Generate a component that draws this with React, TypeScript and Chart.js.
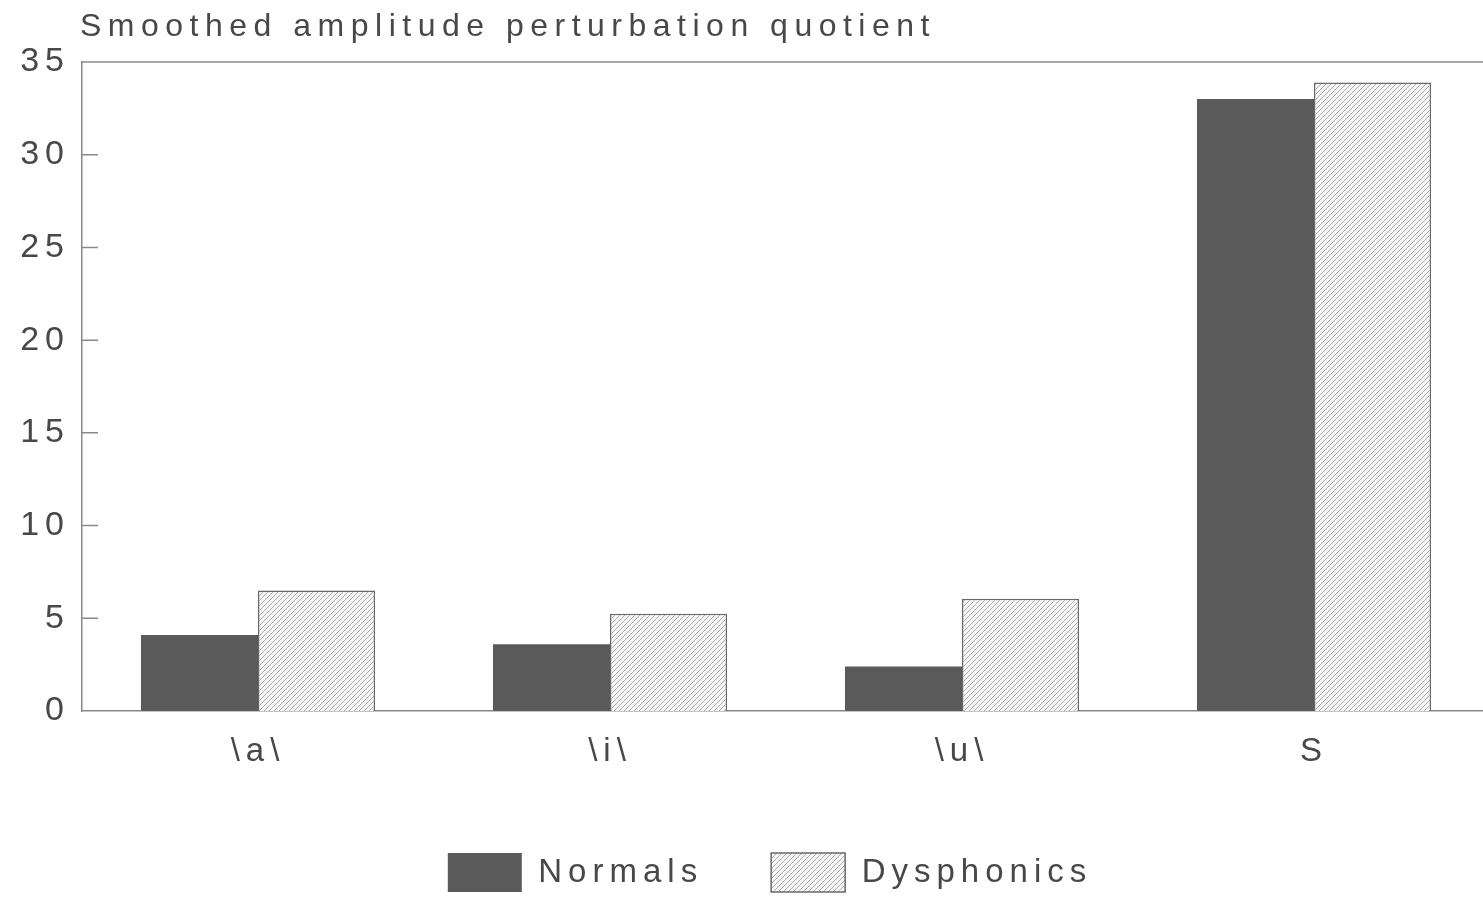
import React, { useEffect, useRef } from "react";
import { Chart, registerables } from "chart.js";

Chart.register(...registerables);

const title = "Smoothed amplitude perturbation quotient";
const categories = ["\\a\\", "\\i\\", "\\u\\", "S"];
const seriesNames = ["Normals", "Dysphonics"];
const normals = [4.1, 3.6, 2.4, 33.0];
const dysphonics = [6.5, 5.25, 6.05, 33.9];
const yTicks = [0, 5, 10, 15, 20, 25, 30, 35];

const FONT = "'Liberation Sans', Arial, Helvetica, sans-serif";
const TEXT = "#484848";
const AXIS = "#8a8a8a";

export default function App() {
  const ref = useRef<HTMLCanvasElement>(null);

  useEffect(() => {
    const canvas = ref.current;
    if (!canvas) return;

    const S = 5;
    const pc = document.createElement("canvas");
    pc.width = S;
    pc.height = S;
    const p = pc.getContext("2d")!;
    p.fillStyle = "#f6f6f6";
    p.fillRect(0, 0, S, S);
    p.strokeStyle = "#adadad";
    p.lineWidth = 1;
    p.beginPath();
    p.moveTo(-1, S + 1);
    p.lineTo(S + 1, -1);
    p.moveTo(-1, 1);
    p.lineTo(1, -1);
    p.moveTo(S - 1, S + 1);
    p.lineTo(S + 1, S - 1);
    p.stroke();
    const pattern = canvas.getContext("2d")!.createPattern(pc, "repeat");

    const stylePlugin = {
      id: "styleTweaks",
      beforeLayout(chart: any) {
        chart.ctx.letterSpacing = "6px";
      },
      beforeDraw(chart: any) {
        chart.ctx.letterSpacing = "6px";
      },
      afterLayout(chart: any) {
        const t = chart.titleBlock;
        if (t) {
          const w = t.right - t.left;
          t.left = chart.chartArea.left - 2;
          t.right = t.left + w;
          if (!t.__patched) {
            const orig = t.draw;
            t.draw = function (...args: any[]) {
              chart.ctx.letterSpacing = "6.5px";
              orig.apply(this, args);
              chart.ctx.letterSpacing = "6px";
            };
            t.__patched = true;
          }
        }
        const lg = chart.legend;
        if (lg) {
          lg.left += 25;
          lg.right += 25;
          lg.top += 2;
          lg.bottom += 2;
        }
      },
      afterDraw(chart: any) {
        const { ctx, chartArea } = chart;
        const y = chart.scales.y;
        ctx.save();
        ctx.strokeStyle = AXIS;
        ctx.lineWidth = 1.5;
        ctx.beginPath();
        ctx.moveTo(chartArea.left, chartArea.top);
        ctx.lineTo(chartArea.right, chartArea.top);
        y.ticks.forEach((t: any) => {
          if (t.value > yTicks[0] && t.value < yTicks[yTicks.length - 1]) {
            const py = y.getPixelForValue(t.value);
            ctx.moveTo(chartArea.left, py);
            ctx.lineTo(chartArea.left + 16, py);
          }
        });
        ctx.stroke();
        ctx.restore();
      },
    };

    const chart = new Chart(canvas, {
      type: "bar",
      data: {
        labels: categories,
        datasets: [
          {
            label: seriesNames[0],
            data: normals,
            backgroundColor: "#5a5a5a",
            borderWidth: 0,
            categoryPercentage: 0.665,
            barPercentage: 1,
          },
          {
            label: seriesNames[1],
            data: dysphonics,
            backgroundColor: pattern as any,
            borderColor: "#6a6a6a",
            borderWidth: 1.5,
            borderDash: [4, 3],
            categoryPercentage: 0.665,
            barPercentage: 1,
          } as any,
        ],
      },
      options: {
        responsive: true,
        maintainAspectRatio: false,
        animation: false,
        layout: { padding: { left: 0, right: 10, top: 0, bottom: 0 } },
        plugins: {
          title: {
            display: true,
            text: title,
            align: "start",
            color: TEXT,
            font: { family: FONT, size: 32, weight: "normal" },
            padding: { top: 8, bottom: 15.6 },
          },
          legend: {
            position: "bottom",
            labels: {
              boxWidth: 74,
              boxHeight: 39,
              padding: 68,
              color: TEXT,
              font: { family: FONT, size: 33 },
            },
          },
          tooltip: { enabled: false },
        },
        scales: {
          x: {
            grid: { display: false, drawTicks: false },
            border: { display: true, color: AXIS, width: 1.5 },
            ticks: { color: TEXT, font: { family: FONT, size: 33 }, padding: 21 },
            afterFit: (s: any) => {
              s.height = 72;
            },
          },
          y: {
            min: yTicks[0],
            max: yTicks[yTicks.length - 1],
            grid: { display: false, drawTicks: false },
            border: { display: true, color: AXIS, width: 1.5 },
            ticks: { color: TEXT, font: { family: FONT, size: 34 }, padding: 12 },
            afterBuildTicks: (s: any) => {
              s.ticks = yTicks.map((v) => ({ value: v }));
            },
            afterFit: (s: any) => {
              s.width = 82;
            },
          },
        },
      },
      plugins: [stylePlugin],
    });

    return () => chart.destroy();
  }, []);

  return (
    <div style={{ position: "absolute", left: 0, top: 0, width: 1483, height: 900, overflow: "hidden", background: "#fff" }}>
      <div style={{ position: "relative", width: 1500, height: 900 }}>
        <canvas ref={ref} />
      </div>
    </div>
  );
}
